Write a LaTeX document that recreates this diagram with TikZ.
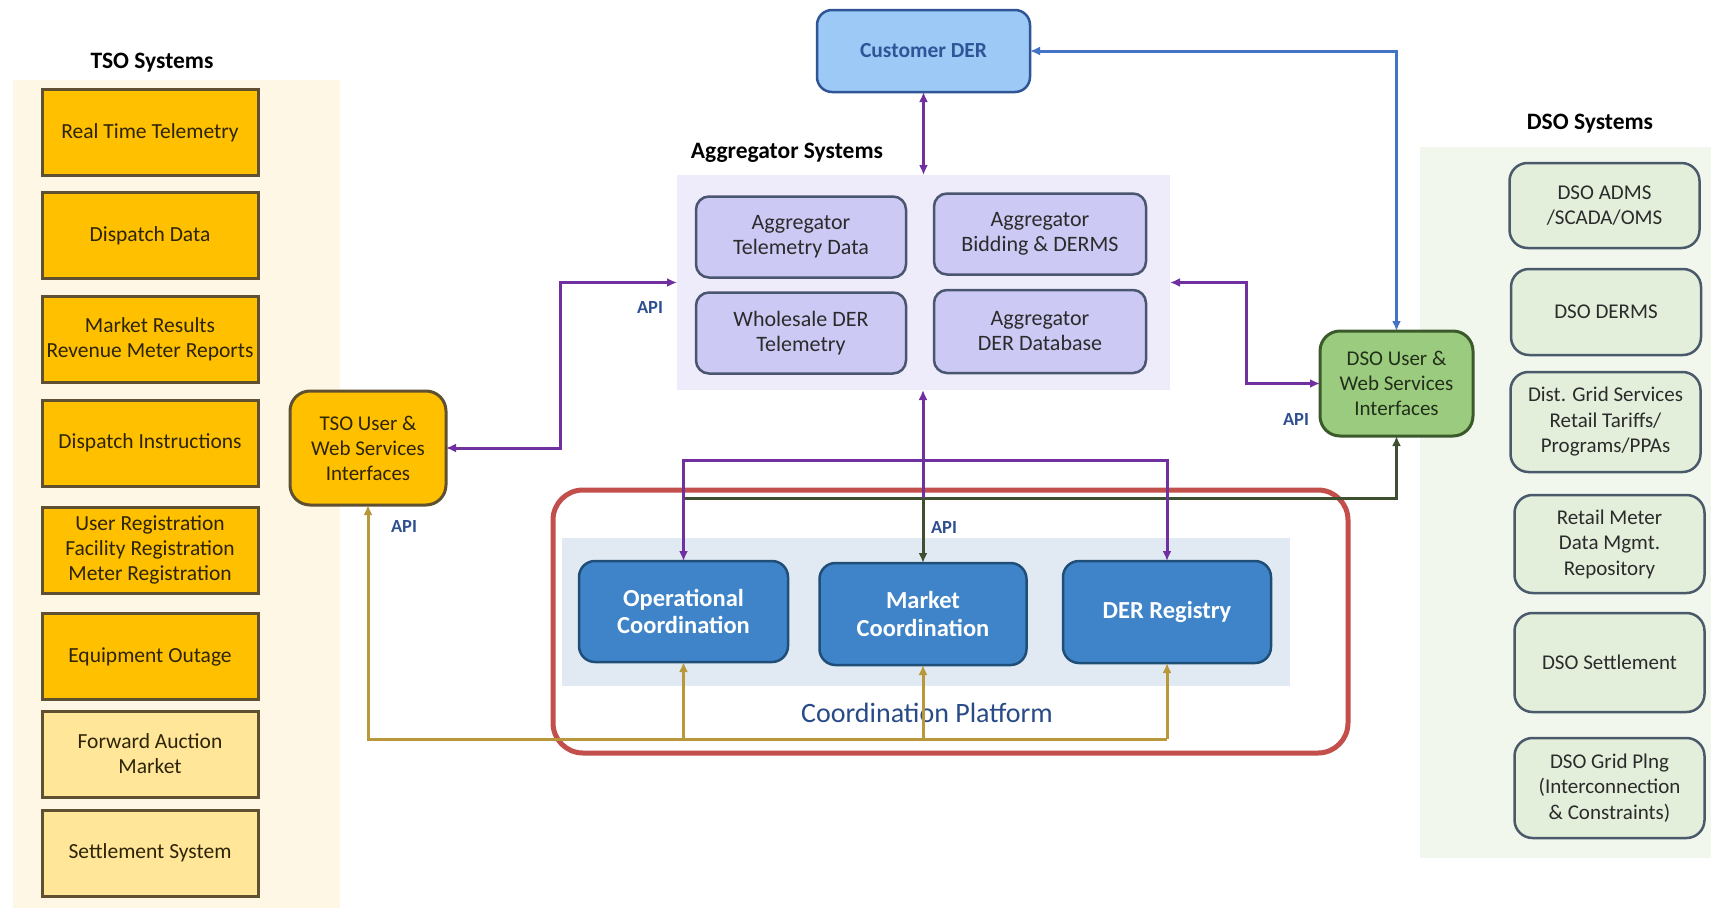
\documentclass[tikz,border=0pt]{standalone}
\usepackage{fontspec}
\setmainfont{Carlito}
\usetikzlibrary{arrows.meta}

\definecolor{tsobg}{HTML}{FEF7E6}
\definecolor{tsofill}{HTML}{FFC000}
\definecolor{tsolight}{HTML}{FFE699}
\definecolor{tsoedge}{HTML}{5E5030}
\definecolor{tsotext}{HTML}{2E2408}
\definecolor{custfill}{HTML}{9DC9F7}
\definecolor{custedge}{HTML}{2F5597}
\definecolor{aggbg}{HTML}{EEECFB}
\definecolor{aggfill}{HTML}{CCC9F5}
\definecolor{aggedge}{HTML}{4A5570}
\definecolor{coordbg}{HTML}{E1E9F3}
\definecolor{coordfill}{HTML}{3F84C8}
\definecolor{coordedge}{HTML}{1F4E79}
\definecolor{redframe}{HTML}{C24F4B}
\definecolor{dsobg}{HTML}{F2F7EE}
\definecolor{dsofill}{HTML}{E3EEDB}
\definecolor{dsoedge}{HTML}{4A5A6A}
\definecolor{dsouserfill}{HTML}{9BCB7E}
\definecolor{dsouseredge}{HTML}{3B5A2B}
\definecolor{dsousertext}{HTML}{22301A}
\definecolor{purp}{HTML}{7030A0}
\definecolor{bluel}{HTML}{4472C4}
\definecolor{goldl}{HTML}{B8983A}
\definecolor{greenl}{HTML}{3F5030}
\definecolor{apiblue}{HTML}{2F4F8F}
\definecolor{cptext}{HTML}{284A86}
\definecolor{darktext}{HTML}{2B2B2B}

\tikzset{
  every node/.style={inner sep=0pt, outer sep=0pt, align=center},
  tsobox/.style={draw=tsoedge, line width=3pt, fill=tsofill, minimum width=216pt,
    minimum height=86pt, text=tsotext, font=\fontsize{21.5}{25}\selectfont},
  tsoboxlight/.style={tsobox, fill=tsolight},
  aggbox/.style={draw=aggedge, line width=2.5pt, fill=aggfill, rounded corners=13pt,
    minimum width=210pt, minimum height=81pt, text=darktext, font=\fontsize{22}{25}\selectfont},
  coordbox/.style={draw=coordedge, line width=2.5pt, fill=coordfill, rounded corners=16pt,
    minimum width=208pt, minimum height=101pt, text=white, font=\fontsize{24.5}{27.5}\selectfont\bfseries},
  dsobox/.style={draw=dsoedge, line width=2.5pt, fill=dsofill, rounded corners=18pt,
    minimum width=190pt, text=darktext, font=\fontsize{21}{25.5}\selectfont},
  grouptitle/.style={font=\fontsize{23.5}{27}\selectfont\bfseries, text=black},
  apilabel/.style={font=\fontsize{18.5}{20}\selectfont\bfseries, text=apiblue},
  conn/.style={line width=3pt, arrows={-Latex[length=10pt,width=9pt]}},
  biconn/.style={line width=3pt, arrows={Latex[length=10pt,width=9pt]-Latex[length=10pt,width=9pt]}},
  plainconn/.style={line width=3pt},
}

\begin{document}
\begin{tikzpicture}[x=1pt, y=-1pt]
\path[use as bounding box, fill=white] (0,0) rectangle (1711,910);

% ---- TSO column ----
\fill[tsobg] (13,80) rectangle (340,908);
\node[grouptitle] (tsotitle) at (152,63) {TSO Systems};
\node[tsobox] (t1) at (150,132.5) {Real Time Telemetry};
\node[tsobox] (t2) at (150,235.5) {Dispatch Data};
\node[tsobox] (t3) at (150,339) {Market Results\\Revenue Meter Reports};
\node[tsobox] (t4) at (150,443) {Dispatch Instructions};
\node[tsobox] (t5) at (150,550) {User Registration\\Facility Registration\\Meter Registration};
\node[tsobox] (t6) at (150,656.5) {Equipment Outage};
\node[tsoboxlight] (t7) at (150,754) {Forward Auction\\Market};
\node[tsoboxlight] (t8) at (150,853) {Settlement System};

\node[draw=tsoedge, line width=3pt, fill=tsofill, rounded corners=20pt,
  minimum width=156pt, minimum height=114pt, text=tsotext,
  font=\fontsize{21}{25}\selectfont] (tsouser) at (368,448)
  {TSO User \&\\Web Services\\Interfaces};

% ---- Customer DER ----
\node[draw=custedge, line width=2.5pt, fill=custfill, rounded corners=15pt,
  minimum width=213pt, minimum height=82pt, text=custedge,
  font=\fontsize{21.5}{25}\selectfont\bfseries] (cust) at (923.5,51) {Customer DER};

% ---- Aggregator systems ----
\node[fill=aggbg, minimum width=493pt, minimum height=215pt] (agg) at (923.5,282.5) {};
\node[grouptitle] (aggtitle) at (787,153) {Aggregator Systems};
\node[aggbox] (a1) at (801,237) {Aggregator\\Telemetry Data};
\node[aggbox, minimum width=212pt] (a2) at (1040,234) {Aggregator\\Bidding \& DERMS};
\node[aggbox] (a3) at (801,333) {Wholesale DER\\Telemetry};
\node[aggbox, minimum width=212pt, minimum height=83pt] (a4) at (1040,331.5) {Aggregator\\DER Database};

% ---- Coordination platform ----
\node[fill=coordbg, minimum width=728pt, minimum height=148pt] (cpbg) at (926,612) {};
\node[draw=redframe, line width=5pt, rounded corners=30pt,
  minimum width=795pt, minimum height=263pt] (cpframe) at (950.5,621.5) {};
\node[coordbox, minimum width=209pt] (oc) at (683.5,611.5) {Operational\\Coordination};
\node[coordbox, minimum width=207pt, minimum height=102pt] (mc) at (923,614) {Market\\Coordination};
\node[coordbox, minimum height=102pt] (dr) at (1167,612) {DER Registry};
\node[font=\fontsize{28}{32}\selectfont, text=cptext] (cptitle) at (927,713) {Coordination Platform};

% ---- DSO column ----
\fill[dsobg] (1420,147) rectangle (1711,858);
\node[grouptitle] (dsotitle) at (1590,124) {DSO Systems};
\node[dsobox, minimum height=85pt] (d1) at (1604.5,205.5) {DSO ADMS\\/SCADA/OMS};
\node[dsobox, minimum height=86pt] (d2) at (1606,312) {DSO DERMS};
\node[dsobox, minimum height=100pt] (d3) at (1605.5,422) {Dist. Grid Services\\Retail Tariffs/\\Programs/PPAs};
\node[dsobox, minimum height=98pt] (d4) at (1609.5,544) {Retail Meter\\Data Mgmt.\\Repository};
\node[dsobox, minimum height=99pt] (d5) at (1609.5,662.5) {DSO Settlement};
\node[dsobox, minimum height=100pt] (d6) at (1609.5,788) {DSO Grid Plng\\(Interconnection\\\& Constraints)};

\node[draw=dsouseredge, line width=3pt, fill=dsouserfill, rounded corners=20pt,
  minimum width=153pt, minimum height=105pt, text=dsousertext,
  font=\fontsize{21}{25}\selectfont] (dsouser) at (1396.5,383.5)
  {DSO User \&\\Web Services\\Interfaces};

% ---- API labels ----
\node[apilabel] (api1) at (650,307) {API};
\node[apilabel] (api2) at (404,526) {API};
\node[apilabel] (api3) at (944,527) {API};
\node[apilabel] (api4) at (1296,419) {API};

% ---- connectors ----
\coordinate (pj) at (923,460);
\coordinate (gy) at (0,498);
\coordinate (yb) at (0,739);

% customer DER <-> aggregator
\draw[biconn, purp] (cust.south) -- (cust.south |- agg.north);
% DSO interface <-> customer DER
\draw[biconn, bluel] (dsouser.north) |- (cust.east);
% TSO interface <-> aggregator
\draw[biconn, purp] (tsouser.east) -- ++(114,0) |- (agg.west);
% aggregator <-> DSO interface
\draw[biconn, purp] (agg.east) -- ++(76,0) |- (dsouser.west);

% coordination platform -> DSO interface
\draw[conn, greenl] (oc.north |- gy) -| (dsouser.south);
\draw[conn, greenl] (mc.north |- gy) -- (mc.north);

% aggregator <-> coordination platform
\draw[plainconn, purp] (mc.north |- gy) -- (pj);
\draw[conn, purp] (pj) -- (mc.north |- agg.south);
\draw[conn, purp] (pj) -| (oc.north);
\draw[conn, purp] (pj) -| (dr.north);

% TSO interface feed into the platform
\draw[conn, goldl] (dr.south |- yb) -| (tsouser.south);
\draw[conn, goldl] (oc.south |- yb) -- (oc.south);
\draw[conn, goldl] (mc.south |- yb) -- (mc.south);
\draw[conn, goldl] (dr.south |- yb) -- (dr.south);

\end{tikzpicture}
\end{document}
